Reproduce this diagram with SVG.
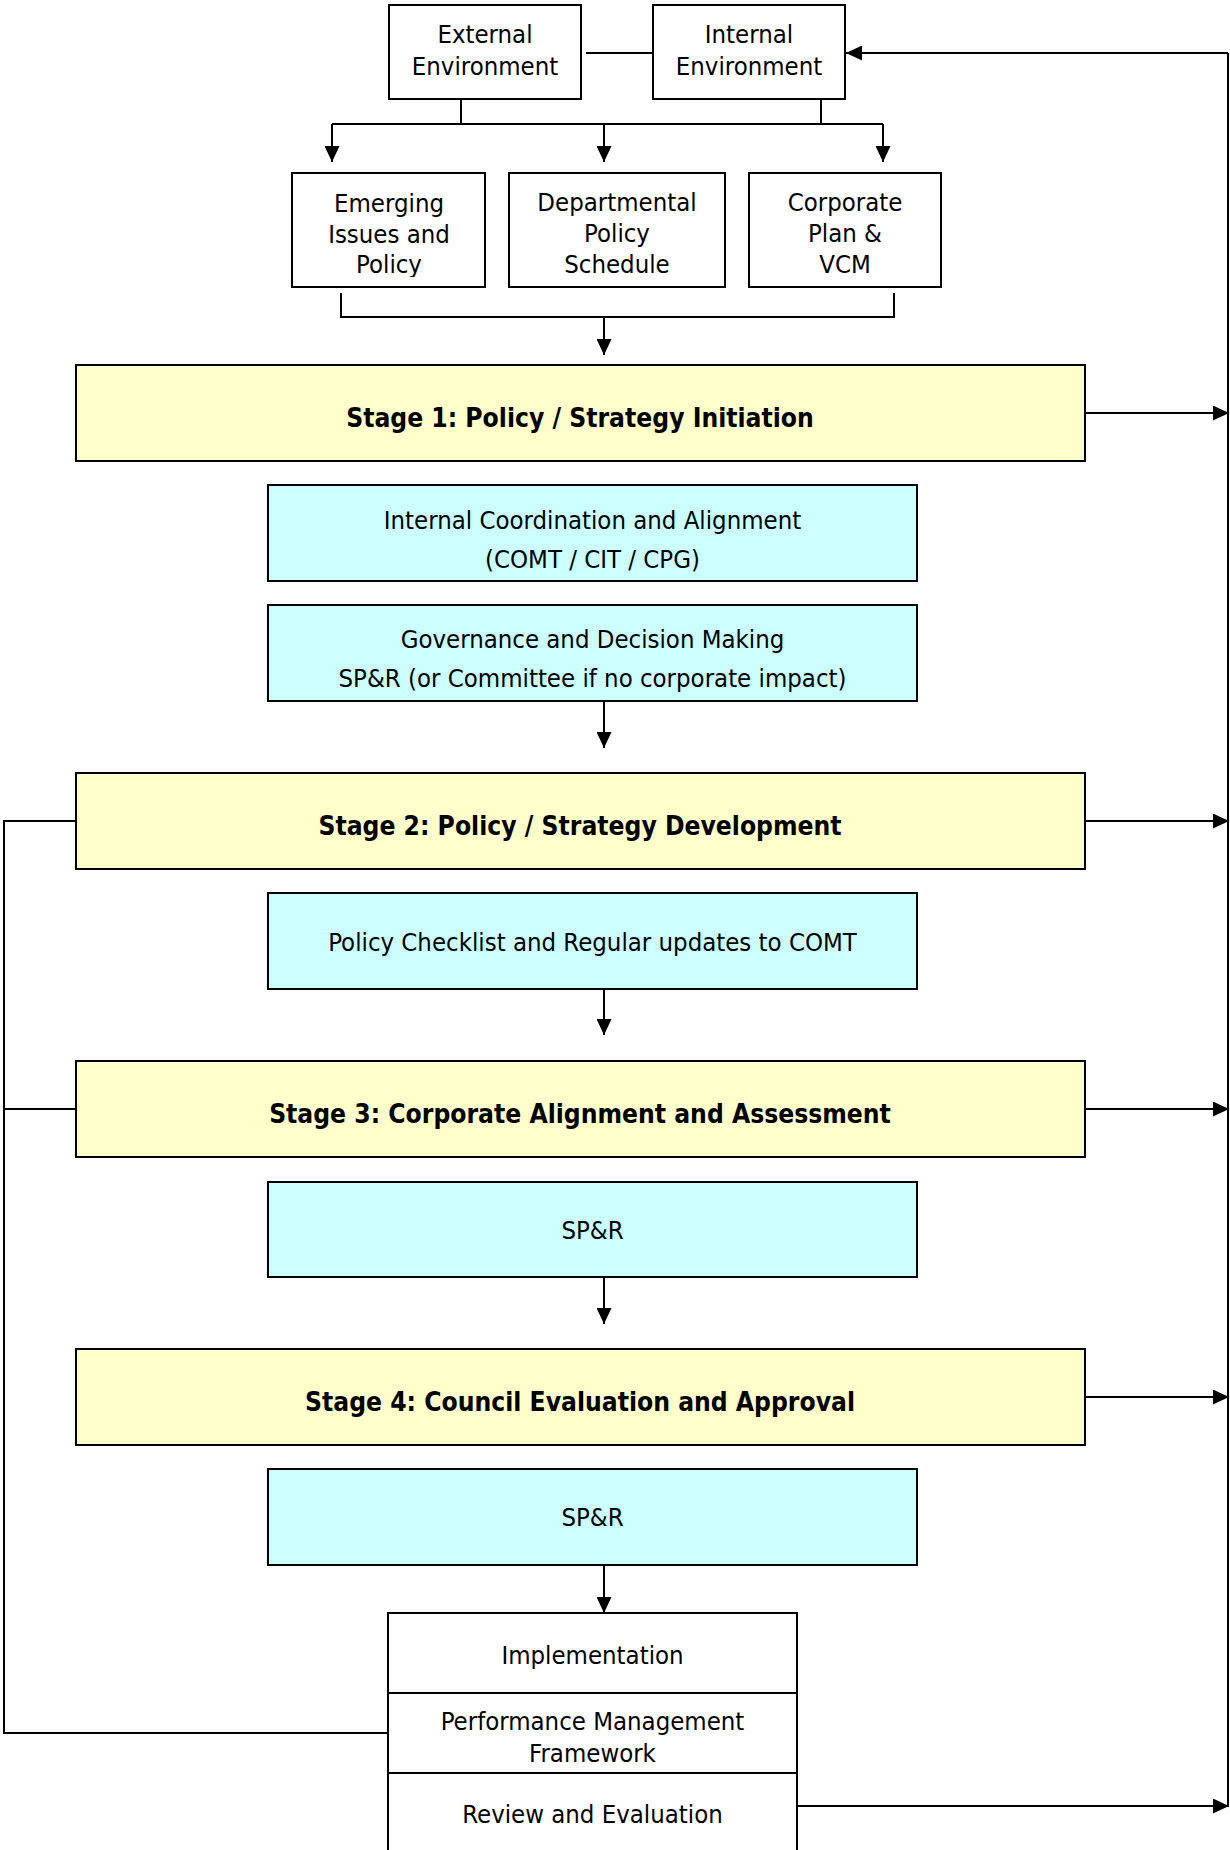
<svg xmlns="http://www.w3.org/2000/svg" width="1230" height="1850" viewBox="0 0 1230 1850">
<style>
  .box { fill: #ffffff; stroke: #000; stroke-width: 2; }
  .stage { fill: #ffffcc; stroke: #000; stroke-width: 2; }
  .cyan { fill: #ccffff; stroke: #000; stroke-width: 2; }
  .t { font-family: 'DejaVu Sans Condensed', 'DejaVu Sans', sans-serif; font-stretch: condensed; font-size: 25.5px; fill: #000; text-anchor: middle; }
  .b { font-family: 'DejaVu Sans Condensed', 'DejaVu Sans', sans-serif; font-stretch: condensed; font-size: 26.2px; font-weight: bold; fill: #000; text-anchor: middle; }
  .c { fill: none; stroke: #000; stroke-width: 2; }
  .a { fill: none; stroke: #000; stroke-width: 2; marker-end: url(#arr); }
</style>
<defs>
  <marker id="arr" markerUnits="userSpaceOnUse" markerWidth="16" markerHeight="15" refX="16" refY="7.5" orient="auto">
    <path d="M0,0 L16,7.5 L0,15 z" fill="#000"/>
  </marker>
  <clipPath id="clipEm"><rect x="290" y="170" width="200" height="107"/></clipPath>
</defs>
<rect width="1230" height="1850" fill="#fff"/>

<g id="connectors">
  <line class="c" x1="586" y1="53" x2="653" y2="53"/>
  <path class="c" d="M1228,53 V1806"/>
  <path class="a" d="M1228,53 H846"/>
  <path class="c" d="M461,99 V124 M821,99 V124 M332,124 H883"/>
  <path class="a" d="M332,124 V162"/>
  <path class="a" d="M604,124 V162"/>
  <path class="a" d="M883,124 V162"/>
  <path class="c" d="M341,293 V317 H894 V293"/>
  <path class="a" d="M604,317 V355"/>
  <path class="a" d="M1085,413 H1229"/>
  <path class="a" d="M604,702 V748"/>
  <path class="a" d="M1085,821 H1229"/>
  <path class="a" d="M604,989 V1035"/>
  <path class="a" d="M1085,1109 H1229"/>
  <path class="a" d="M604,1277 V1324"/>
  <path class="a" d="M1085,1397 H1229"/>
  <path class="a" d="M604,1565 V1613"/>
  <path class="a" d="M797,1806 H1229"/>
  <path class="c" d="M76,821 H4 V1733 H388 M4,1109 H76"/>
</g>

<g id="external">
  <rect class="box" x="389" y="5" width="192" height="94"/>
  <text class="t" x="485" y="43">External</text>
  <text class="t" x="485" y="75">Environment</text>
</g>
<g id="internal">
  <rect class="box" x="653" y="5" width="192" height="94"/>
  <text class="t" x="749" y="43">Internal</text>
  <text class="t" x="749" y="75">Environment</text>
</g>

<g id="emerging">
  <rect class="box" x="292" y="173" width="193" height="114"/>
  <g clip-path="url(#clipEm)">
    <text class="t" x="389" y="212">Emerging</text>
    <text class="t" x="389" y="243">Issues and</text>
    <text class="t" x="389" y="273">Policy</text>
  </g>
</g>
<g id="departmental">
  <rect class="box" x="509" y="173" width="216" height="114"/>
  <text class="t" x="617" y="211">Departmental</text>
  <text class="t" x="617" y="242">Policy</text>
  <text class="t" x="617" y="273">Schedule</text>
</g>
<g id="corporate">
  <rect class="box" x="749" y="173" width="192" height="114"/>
  <text class="t" x="845" y="211">Corporate</text>
  <text class="t" x="845" y="242">Plan &amp;</text>
  <text class="t" x="845" y="273">VCM</text>
</g>

<g id="stage1">
  <rect class="stage" x="76" y="365" width="1009" height="96"/>
  <text class="b" x="580" y="427">Stage 1: Policy / Strategy Initiation</text>
</g>
<g id="coordination">
  <rect class="cyan" x="268" y="485" width="649" height="96"/>
  <text class="t" x="592.5" y="529">Internal Coordination and Alignment</text>
  <text class="t" x="592.5" y="568">(COMT / CIT / CPG)</text>
</g>
<g id="governance">
  <rect class="cyan" x="268" y="605" width="649" height="96"/>
  <text class="t" x="592.5" y="648">Governance and Decision Making</text>
  <text class="t" x="592.5" y="687">SP&amp;R (or Committee if no corporate impact)</text>
</g>

<g id="stage2">
  <rect class="stage" x="76" y="773" width="1009" height="96"/>
  <text class="b" x="580" y="835">Stage 2: Policy / Strategy Development</text>
</g>
<g id="checklist">
  <rect class="cyan" x="268" y="893" width="649" height="96"/>
  <text class="t" x="592.5" y="951">Policy Checklist and Regular updates to COMT</text>
</g>

<g id="stage3">
  <rect class="stage" x="76" y="1061" width="1009" height="96"/>
  <text class="b" x="580" y="1123">Stage 3: Corporate Alignment and Assessment</text>
</g>
<g id="spr1">
  <rect class="cyan" x="268" y="1182" width="649" height="95"/>
  <text class="t" x="592.5" y="1239">SP&amp;R</text>
</g>

<g id="stage4">
  <rect class="stage" x="76" y="1349" width="1009" height="96"/>
  <text class="b" x="580" y="1411">Stage 4: Council Evaluation and Approval</text>
</g>
<g id="spr2">
  <rect class="cyan" x="268" y="1469" width="649" height="96"/>
  <text class="t" x="592.5" y="1526">SP&amp;R</text>
</g>

<g id="implementation">
  <rect class="box" x="388" y="1613" width="409" height="80"/>
  <text class="t" x="592.5" y="1664">Implementation</text>
</g>
<g id="performance">
  <rect class="box" x="388" y="1693" width="409" height="80"/>
  <text class="t" x="592.5" y="1730">Performance Management</text>
  <text class="t" x="592.5" y="1762">Framework</text>
</g>
<g id="review">
  <rect class="box" x="388" y="1773" width="409" height="90"/>
  <text class="t" x="592.5" y="1823">Review and Evaluation</text>
</g>
</svg>
